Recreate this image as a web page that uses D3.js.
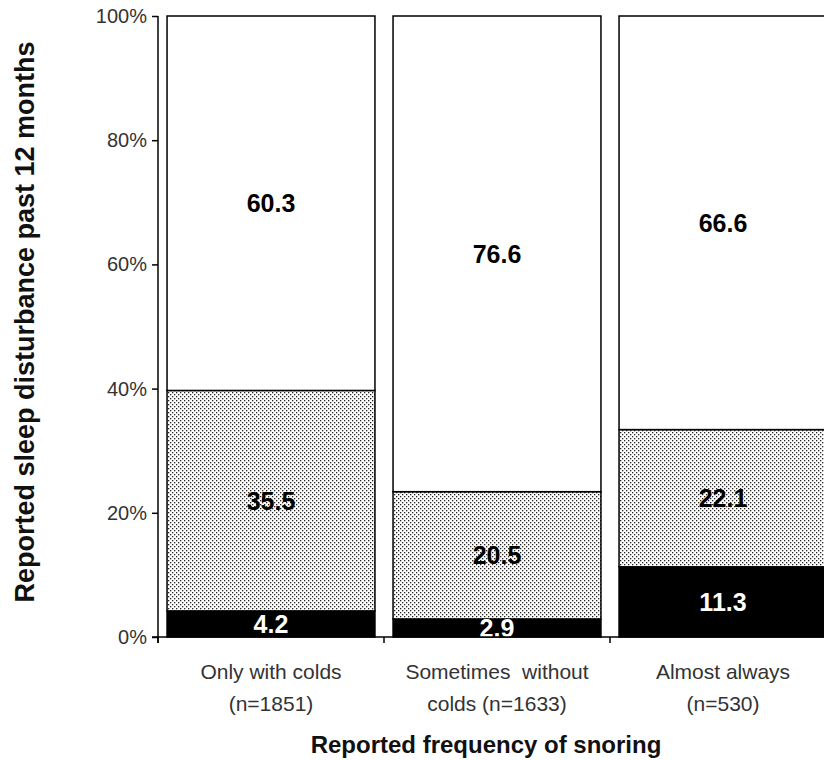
<!DOCTYPE html>
<html>
<head>
<meta charset="utf-8">
<script src="https://cdn.jsdelivr.net/npm/d3@7"></script>
<style>
  html, body { margin: 0; padding: 0; background: #fff; }
  svg { display: block; }
  text { font-family: "Liberation Sans", Arial, sans-serif; white-space: pre; }
</style>
</head>
<body>
<svg id="chart" width="824" height="760"></svg>
<script>
// ---- data ----
const categories = ["Only with colds", "Sometimes without colds", "Almost always"];
const categoryLine1 = ["Only with colds", "Sometimes  without", "Almost always"];
const categoryLine2 = ["(n=1851)", "colds (n=1633)", "(n=530)"];
const seriesNames = ["Often", "Sometimes", "Never"];
const oftenValues = [4.2, 2.9, 11.3];
const sometimesValues = [35.5, 20.5, 22.1];
const neverValues = [60.3, 76.6, 66.6];
const yTicks = [0, 20, 40, 60, 80, 100];
const yTitle = "Reported sleep disturbance past 12 months";
const xTitle = "Reported frequency of snoring";

const svg = d3.select("#chart");

// pattern for dotted fill
const defs = svg.append("defs");
const pat = defs.append("pattern")
  .attr("id", "dots").attr("patternUnits", "userSpaceOnUse")
  .attr("width", 4).attr("height", 4);
pat.append("rect").attr("width", 4).attr("height", 4).attr("fill", "#fff");
pat.append("rect").attr("x", 0).attr("y", 0).attr("width", 1.3).attr("height", 1.3).attr("fill", "#222");
pat.append("rect").attr("x", 2).attr("y", 2).attr("width", 1.3).attr("height", 1.3).attr("fill", "#222");

const fills = ["#000", "url(#dots)", "#fff"];
const labelColors = ["#fff", "#000", "#000"];

const x = d3.scaleBand().domain(categories).range([158, 836]).paddingInner(0.08).paddingOuter(0.04);
const y = d3.scaleLinear().domain([0, 100]).range([637, 16]);

// build stack table
const table = categories.map((c, i) => ({
  cat: c, Often: oftenValues[i], Sometimes: sometimesValues[i], Never: neverValues[i]
}));
const stacked = d3.stack().keys(seriesNames)(table);

const g = svg.append("g");
stacked.forEach((layer, li) => {
  g.append("g").selectAll("rect").data(layer).join("rect")
    .attr("x", d => x(d.data.cat))
    .attr("y", d => y(d[1]))
    .attr("width", x.bandwidth())
    .attr("height", d => y(d[0]) - y(d[1]))
    .attr("fill", fills[li])
    .attr("stroke", "#000")
    .attr("stroke-width", 1.5);
});
stacked.forEach((layer, li) => {
  g.append("g").selectAll("text").data(layer).join("text")
    .attr("x", d => x(d.data.cat) + x.bandwidth() / 2)
    .attr("y", d => (y(d[0]) + y(d[1])) / 2)
    .attr("dy", "0.36em")
    .attr("text-anchor", "middle")
    .attr("font-size", 25)
    .attr("font-weight", "bold")
    .attr("fill", labelColors[li])
    .text(d => (d[1] - d[0]).toFixed(1));
});

// y axis
const yAxis = d3.axisLeft(y).tickValues(yTicks).tickFormat(d => d + "%").tickSize(6).tickPadding(5).tickSizeOuter(0);
const ya = svg.append("g").attr("transform", "translate(158,0)").call(yAxis);
ya.select(".domain").attr("stroke", "#000").attr("stroke-width", 1.5).attr("d", "M0,16V643");
ya.selectAll(".tick line").attr("stroke", "#000").attr("stroke-width", 1.5);
ya.selectAll(".tick text").attr("font-size", 20).attr("fill", "#333")
  .attr("font-family", "'Liberation Sans', Arial, sans-serif");

// x axis baseline & boundary ticks
const step = x.step();
const xa = svg.append("g");
xa.append("line").attr("x1", 152).attr("x2", 836).attr("y1", y(0)).attr("y2", y(0))
  .attr("stroke", "#000").attr("stroke-width", 1.5);
const boundaries = categories.map(c => x(c) - step * x.paddingInner() / 2).concat([836]);
xa.selectAll("line.b").data(boundaries).join("line").attr("class", "b")
  .attr("x1", d => d).attr("x2", d => d).attr("y1", y(0)).attr("y2", y(0) + 6)
  .attr("stroke", "#000").attr("stroke-width", 1.5);

// category labels
const cl = svg.append("g").attr("font-size", 21).attr("fill", "#333").attr("text-anchor", "middle");
categories.forEach((c, i) => {
  const cx = x(c) + x.bandwidth() / 2;
  cl.append("text").attr("x", cx).attr("y", 679).text(categoryLine1[i]);
  cl.append("text").attr("x", cx).attr("y", 711).text(categoryLine2[i]);
});

// titles
svg.append("text").attr("x", 486).attr("y", 753).attr("text-anchor", "middle")
  .attr("font-size", 24).attr("font-weight", "bold").attr("fill", "#111").text(xTitle);
svg.append("text").attr("transform", "translate(34,322) rotate(-90)").attr("text-anchor", "middle")
  .attr("font-size", 27).attr("font-weight", "bold").attr("fill", "#111").text(yTitle);
</script>
</body>
</html>
